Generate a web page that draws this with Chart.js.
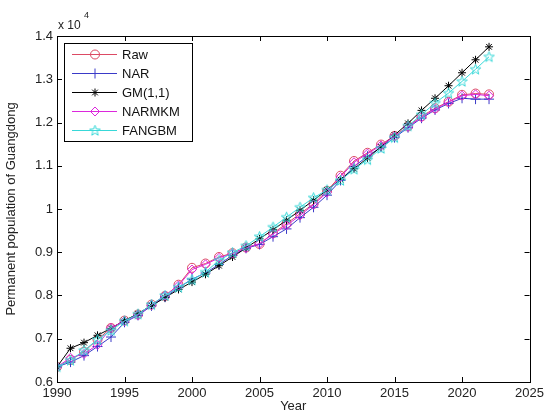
<!DOCTYPE html>
<html>
<head>
<meta charset="utf-8">
<script src="https://cdn.jsdelivr.net/npm/chart.js@4.4.0/dist/chart.umd.min.js"></script>
<style>
  html, body { margin: 0; padding: 0; background: #fff; }
  canvas { display: block; }
</style>
</head>
<body>
<canvas id="chart" width="548" height="414"></canvas>
<script>
// years 1990..2022, values in units of 10^4
const years = [1990,1991,1992,1993,1994,1995,1996,1997,1998,1999,2000,2001,2002,2003,2004,2005,2006,2007,2008,2009,2010,2011,2012,2013,2014,2015,2016,2017,2018,2019,2020,2021,2022];
const raw = [0.635,0.651,0.670,0.698,0.725,0.742,0.756,0.779,0.799,0.825,0.864,0.874,0.889,0.898,0.911,0.919,0.944,0.966,0.989,1.012,1.042,1.077,1.111,1.130,1.149,1.169,1.191,1.214,1.233,1.248,1.264,1.267,1.265];
const nar = [0.635,0.646,0.661,0.682,0.704,0.738,0.754,0.776,0.796,0.818,0.838,0.852,0.872,0.893,0.909,0.918,0.936,0.954,0.980,1.004,1.032,1.066,1.098,1.122,1.143,1.165,1.188,1.210,1.229,1.244,1.256,1.254,1.254];
const gm = [0.635,0.678,0.691,0.708,0.724,0.742,0.758,0.777,0.795,0.814,0.831,0.849,0.869,0.889,0.910,0.931,0.952,0.974,0.997,1.020,1.044,1.068,1.093,1.118,1.144,1.171,1.198,1.228,1.256,1.285,1.315,1.345,1.375];
const narmkm = [0.635,0.656,0.665,0.686,0.725,0.741,0.755,0.778,0.800,0.823,0.860,0.872,0.887,0.897,0.910,0.920,0.942,0.962,0.985,1.010,1.038,1.074,1.108,1.128,1.147,1.168,1.190,1.212,1.231,1.247,1.262,1.265,1.262];
const fangbm = [0.635,0.650,0.673,0.698,0.719,0.741,0.757,0.779,0.800,0.819,0.836,0.854,0.881,0.899,0.915,0.936,0.958,0.981,1.004,1.026,1.044,1.066,1.092,1.114,1.140,1.165,1.192,1.218,1.245,1.268,1.295,1.323,1.352];

const seriesNames = ['Raw', 'NAR', 'GM(1,1)', 'NARMKM', 'FANGBM'];
const xTicks = [1990, 1995, 2000, 2005, 2010, 2015, 2020, 2025];
const yTicks = [0.6, 0.7, 0.8, 0.9, 1.0, 1.1, 1.2, 1.3, 1.4];

const FONT = '"Liberation Sans", Arial, Helvetica, sans-serif';

// pentagram marker for FANGBM
function makeStar(color) {
    const c = document.createElement('canvas');
    c.width = 13; c.height = 13;
    const g = c.getContext('2d');
    g.strokeStyle = color;
    g.lineWidth = 1;
    g.beginPath();
    for (let i = 0; i < 10; i++) {
        const r = i % 2 === 0 ? 5.5 : 2.3;
        const a = -Math.PI / 2 + i * Math.PI / 5;
        const px = 6.5 + r * Math.cos(a), py = 6.8 + r * Math.sin(a);
        if (i === 0) g.moveTo(px, py); else g.lineTo(px, py);
    }
    g.closePath();
    g.stroke();
    return c;
}

const pts = arr => arr.map((v, i) => ({ x: years[i], y: v }));

const styles = [
    { color: '#dc4a64', pointStyle: 'circle', radius: 4.5 },
    { color: '#3a3ac8', pointStyle: 'cross', radius: 5 },
    { color: '#000000', pointStyle: 'star', radius: 4 },
    { color: '#dc28dc', pointStyle: 'rectRot', radius: 4.5 },
    { color: '#38d8d8', pointStyle: makeStar('#38d8d8'), radius: 5 }
];
const allData = [raw, nar, gm, narmkm, fangbm];

const datasets = allData.map((arr, i) => ({
    label: seriesNames[i],
    data: pts(arr),
    borderColor: styles[i].color,
    backgroundColor: 'rgba(0,0,0,0)',
    pointBorderColor: styles[i].color,
    pointBackgroundColor: 'rgba(0,0,0,0)',
    pointStyle: styles[i].pointStyle,
    pointRadius: styles[i].radius,
    pointBorderWidth: 1,
    borderWidth: 1,
    tension: 0,
    order: allData.length - i
}));

const boxPlugin = {
    id: 'matlabBox',
    afterDraw(chart) {
        const ctx = chart.ctx;
        const a = chart.chartArea;
        const xs = chart.scales.x, ys = chart.scales.y;
        ctx.save();
        ctx.strokeStyle = '#000';
        ctx.lineWidth = 1;
        ctx.strokeRect(Math.round(a.left) + 0.5, Math.round(a.top) + 0.5, Math.round(a.right - a.left), Math.round(a.bottom - a.top));
        ctx.beginPath();
        const tl = 5;
        xTicks.forEach(t => {
            const px = Math.round(xs.getPixelForValue(t)) + 0.5;
            ctx.moveTo(px, a.bottom); ctx.lineTo(px, a.bottom - tl);
            ctx.moveTo(px, a.top); ctx.lineTo(px, a.top + tl);
        });
        yTicks.forEach(t => {
            const py = Math.round(ys.getPixelForValue(t)) + 0.5;
            ctx.moveTo(a.left, py); ctx.lineTo(a.left + tl, py);
            ctx.moveTo(a.right, py); ctx.lineTo(a.right - tl, py);
        });
        ctx.stroke();

        // exponent label
        ctx.fillStyle = '#222';
        ctx.font = '12px ' + FONT;
        ctx.textAlign = 'left';
        ctx.textBaseline = 'middle';
        ctx.fillText('x 10', a.left + 1, a.top - 10);
        ctx.font = '9px ' + FONT;
        ctx.fillText('4', a.left + 27, a.top - 20);

        // legend
        const lx = a.left + 7, ly = a.top + 7, lw = 128, lh = 98;
        ctx.fillStyle = '#fff';
        ctx.fillRect(lx, ly, lw, lh);
        ctx.strokeStyle = '#000';
        ctx.strokeRect(lx + 0.5, ly + 0.5, lw, lh);
        chart.data.datasets.forEach((ds, i) => {
            const ry = ly + 11 + i * 19;
            ctx.strokeStyle = ds.borderColor;
            ctx.lineWidth = 1;
            ctx.beginPath();
            ctx.moveTo(lx + 8, ry + 0.5);
            ctx.lineTo(lx + 53, ry + 0.5);
            ctx.stroke();
            ctx.fillStyle = 'rgba(0,0,0,0)';
            Chart.helpers.drawPoint(ctx, {
                pointStyle: ds.pointStyle,
                radius: ds.pointRadius,
                rotation: 0,
                borderWidth: 1
            }, lx + 31, ry + 0.5);
            ctx.fillStyle = '#111';
            ctx.font = '13px ' + FONT;
            ctx.textAlign = 'left';
            ctx.textBaseline = 'middle';
            ctx.fillText(ds.label, lx + 58, ry + 1);
        });
        ctx.restore();
    }
};

new Chart(document.getElementById('chart'), {
    type: 'line',
    data: { datasets: datasets },
    options: {
        responsive: false,
        animation: false,
        devicePixelRatio: 1,
        layout: { padding: { top: 36, right: 13, left: 0, bottom: 0 } },
        plugins: {
            legend: { display: false },
            tooltip: { enabled: false }
        },
        scales: {
            x: {
                type: 'linear',
                min: 1990,
                max: 2025,
                afterFit: s => { s.height = 32; },
                afterBuildTicks: s => { s.ticks = xTicks.map(v => ({ value: v })); },
                ticks: {
                    callback: v => String(v),
                    font: { family: FONT, size: 13 },
                    color: '#222',
                    padding: 4,
                    maxRotation: 0,
                    autoSkip: false
                },
                grid: { display: false, drawTicks: false },
                border: { display: false },
                title: {
                    display: true,
                    text: 'Year',
                    font: { family: FONT, size: 13 },
                    color: '#222',
                    padding: { top: 0, bottom: 0 }
                }
            },
            y: {
                min: 0.6,
                max: 1.4,
                afterFit: s => { s.width = 57; },
                afterBuildTicks: s => { s.ticks = yTicks.map(v => ({ value: v })); },
                ticks: {
                    callback: v => String(Math.round(v * 10) / 10),
                    font: { family: FONT, size: 13 },
                    color: '#222',
                    padding: 4
                },
                grid: { display: false, drawTicks: false },
                border: { display: false },
                title: {
                    display: true,
                    text: 'Permanent population of Guangdong',
                    font: { family: FONT, size: 13 },
                    color: '#222',
                    padding: { top: 4, bottom: 0 }
                }
            }
        }
    },
    plugins: [boxPlugin]
});
</script>
</body>
</html>
